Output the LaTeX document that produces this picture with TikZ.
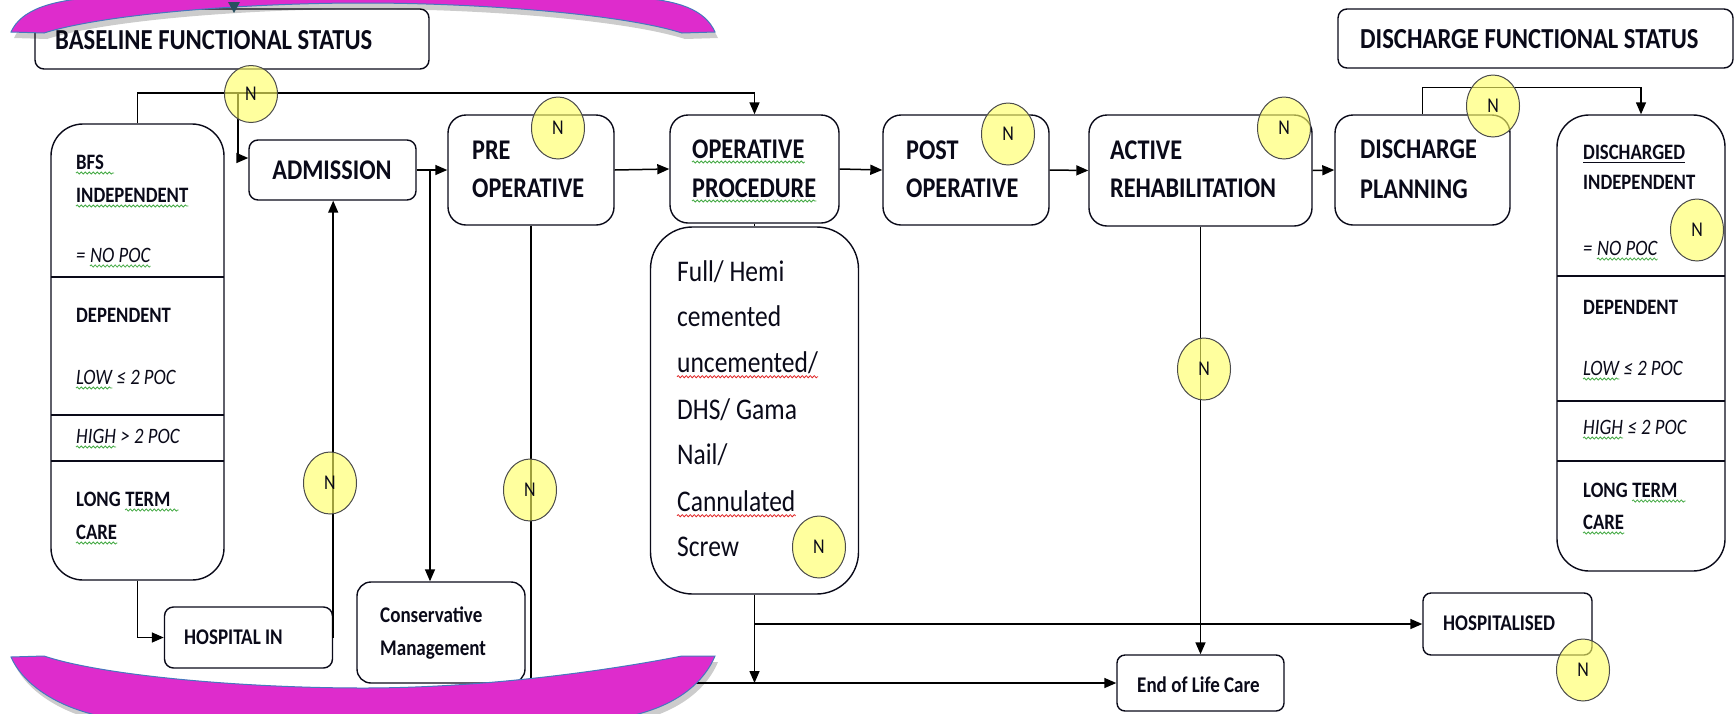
\documentclass[tikz,border=0pt]{standalone}
\usepackage{fontspec}
\setmainfont{Carlito}[FakeStretch=0.85]
\usetikzlibrary{arrows.meta,shapes.geometric,decorations.pathmorphing}
\definecolor{sqg}{RGB}{70,170,70}
\definecolor{sqr}{RGB}{225,40,40}
\definecolor{mag}{RGB}{222,44,204}
\definecolor{magline}{RGB}{70,120,190}
\definecolor{nyel}{RGB}{255,255,100}
\definecolor{ink}{RGB}{10,10,25}
\definecolor{tipc}{RGB}{40,80,95}
\newcommand\fntT{\fontsize{29}{35}\selectfont\bfseries}
\newcommand\fntM{\fontsize{28.5}{34}\selectfont\bfseries}
\newcommand\fntB{\fontsize{22}{26}\selectfont\bfseries}
\newcommand\fntI{\fontsize{22}{26}\selectfont\itshape}
\newcommand\fntS{\fontsize{22.4}{27}\selectfont\bfseries}
\newcommand\fntD{\fontsize{30}{36}\selectfont}
\newcommand\fntN{\fontsize{21}{24}\selectfont}
\newcommand\sqline[2]{\draw[#1] ([yshift=-4pt]#2.base west) -- ([yshift=-4pt]#2.base east);}
\tikzset{
  box/.style={draw=ink, line width=1.4pt, fill=white, inner sep=0pt},
  arr/.style={draw=black, line width=1.5pt, -{Triangle[length=12pt,width=10pt]}},
  ln/.style={draw=black, line width=1.5pt},
  divl/.style={draw=ink, line width=1.4pt},
  txt/.style={anchor=base west, inner sep=0pt, text=ink},
  nxt/.style={anchor=base west, inner sep=0pt, text=ink, xshift=4.2pt},
  gsq/.style={draw=sqg, line width=0.8pt, decorate, decoration={snake, amplitude=1.1pt, segment length=4pt}},
  rsq/.style={draw=sqr, line width=0.8pt, decorate, decoration={snake, amplitude=1.1pt, segment length=4pt}},
  uln/.style={draw=ink, line width=1.3pt},
  nc/.style={ellipse, minimum width=53pt, minimum height=62pt, inner sep=0pt,
    draw=black!70, line width=1pt, fill=nyel, fill opacity=0.62, text opacity=1,
    text=ink, font=\fntN},
  ban/.style={fill=mag, draw=magline, line width=1pt},
  bansh/.style={fill=black, opacity=0.2}
}
\begin{document}
\begin{tikzpicture}[x=1pt,y=-1pt]
\useasboundingbox (0,0) rectangle (1735,713);
\fill[white] (0,0) rectangle (1735,713);

% ---------- boxes ----------
\node[box, rounded corners=9pt, minimum width=394pt, minimum height=60pt] (base) at (232,39) {};
\node[box, rounded corners=9pt, minimum width=395pt, minimum height=59pt] (dfs) at (1535.5,38.5) {};
\node[box, rounded corners=32pt, minimum width=173pt, minimum height=456pt] (bfs) at (137.5,352) {};
\node[box, rounded corners=9pt, minimum width=167pt, minimum height=60pt] (adm) at (332.5,170) {};
\node[box, rounded corners=18pt, minimum width=166pt, minimum height=110pt] (pre) at (531,170) {};
\node[box, rounded corners=18pt, minimum width=169pt, minimum height=108pt] (opp) at (754.5,169) {};
\node[box, rounded corners=42pt, minimum width=208pt, minimum height=367pt] (det) at (754.5,410.5) {};
\node[box, rounded corners=18pt, minimum width=166pt, minimum height=110pt] (post) at (966,170) {};
\node[box, rounded corners=18pt, minimum width=223pt, minimum height=111pt] (act) at (1200.5,170.5) {};
\node[box, rounded corners=18pt, minimum width=175pt, minimum height=110pt] (dpl) at (1422.5,170) {};
\node[box, rounded corners=32pt, minimum width=168pt, minimum height=456pt] (dis) at (1641,343) {};
\node[box, rounded corners=9pt, minimum width=168pt, minimum height=61pt] (hin) at (248.5,637.5) {};
\node[box, rounded corners=14pt, minimum width=168pt, minimum height=101pt] (con) at (441,632.5) {};
\node[box, rounded corners=8pt, minimum width=167pt, minimum height=56pt] (eol) at (1200.5,683) {};
\node[box, rounded corners=8pt, minimum width=169pt, minimum height=62pt] (hos) at (1507.5,624) {};

% dividers in the status boxes
\draw[divl] (51,277) -- (224,277);
\draw[divl] (51,415) -- (224,415);
\draw[divl] (51,461) -- (224,461);
\draw[divl] (1557,276) -- (1725,276);
\draw[divl] (1557,401) -- (1725,401);
\draw[divl] (1557,461) -- (1725,461);

% ---------- connectors ----------
\coordinate (jt) at (238,93);
\coordinate (jc) at (430,170);
\draw[arr] (bfs.north) -- (bfs.north |- jt) -| (opp.north);
\draw[arr] (jt) |- ([yshift=12pt]adm.west);
\draw[arr] (adm.east) -- (pre.west);
\draw[arr] (jc) -- (jc |- con.north);
\draw[arr] (pre.east) -- (opp.west);
\draw[arr] (opp.east) -- (post.west);
\draw[arr] (post.east) -- (act.west);
\draw[arr] (act.east) -- (dpl.west);
\draw[arr] (dpl.north) -- ++(0,-27) -| (dis.north);
\draw[ln] (opp.south) -- (det.north);
\draw[arr] (det.south) -- (det.south |- eol.west);
\draw[arr] (det.south |- hos.west) -- (hos.west);
\draw[arr] (pre.south) |- (eol.west);
\draw[arr] (act.south) -- (eol.north);
\draw[arr] (bfs.south) |- (hin.west);
\draw[arr] (hin.east) -- (hin.east |- adm.south);

% ---------- texts ----------
\node[txt,font=\fntT] (baseT) at (55,49.5) {BASELINE FUNCTIONAL STATUS};
\node[txt,font=\fntT] (dfsT) at (1360,48) {DISCHARGE FUNCTIONAL STATUS};
\node[anchor=base, inner sep=0pt, text=ink, font=\fntM] (admT) at (332,179.5) {ADMISSION};
\node[txt,font=\fntM] (preT1) at (472,159) {PRE};
\node[txt,font=\fntM] (preT2) at (472,197) {OPERATIVE};
\node[txt,font=\fntM] (oppT1) at (692,158) {OPERATIVE};
\node[txt,font=\fntM] (oppT2) at (692,197) {PROCEDURE};
\sqline{gsq}{oppT1}
\sqline{gsq}{oppT2}
\node[txt,font=\fntM] (postT1) at (906,159) {POST};
\node[txt,font=\fntM] (postT2) at (906,197) {OPERATIVE};
\node[txt,font=\fntM] (actT1) at (1110,159) {ACTIVE};
\node[txt,font=\fntM] (actT2) at (1110,197) {REHABILITATION};
\node[txt,font=\fntM] (dplT1) at (1360,158) {DISCHARGE};
\node[txt,font=\fntM] (dplT2) at (1360,198) {PLANNING};

% left status box
\node[txt,font=\fntB] (b1) at (76,169) {BFS};
\node[txt,font=\fntB] (b2) at (76,202) {INDEPENDENT};
\node[txt,font=\fntI] (b3a) at (76,262) {=};
\node[nxt,font=\fntI] (b3b) at (b3a.base east) {NO POC};
\node[txt,font=\fntB] (b4) at (76,322) {DEPENDENT};
\node[txt,font=\fntI] (b5a) at (76,384) {LOW};
\node[nxt,font=\fntI] (b5b) at (b5a.base east) {≤ 2 POC};
\node[txt,font=\fntI] (b6a) at (76,443) {HIGH};
\node[nxt,font=\fntI] (b6b) at (b6a.base east) {> 2 POC};
\node[txt,font=\fntB] (b7a) at (76,506) {LONG};
\node[nxt,font=\fntB] (b7b) at (b7a.base east) {TERM};
\node[txt,font=\fntB] (b8) at (76,539) {CARE};
\draw[gsq] ([yshift=-4pt]b1.base west) -- ([xshift=10pt,yshift=-4pt]b1.base east);
\sqline{gsq}{b2}
\sqline{gsq}{b3b}
\sqline{gsq}{b5a}
\sqline{gsq}{b6a}
\draw[gsq] ([yshift=-4pt]b7b.base west) -- ([xshift=8pt,yshift=-4pt]b7b.base east);
\sqline{gsq}{b8}

% right status box
\node[txt,font=\fntB] (d1) at (1583,159) {DISCHARGED};
\node[txt,font=\fntB] (d2) at (1583,189) {INDEPENDENT};
\node[txt,font=\fntI] (d3a) at (1583,255) {=};
\node[nxt,font=\fntI] (d3b) at (d3a.base east) {NO POC};
\node[txt,font=\fntB] (d4) at (1583,314) {DEPENDENT};
\node[txt,font=\fntI] (d5a) at (1583,375) {LOW};
\node[nxt,font=\fntI] (d5b) at (d5a.base east) {≤ 2 POC};
\node[txt,font=\fntI] (d6a) at (1583,434) {HIGH};
\node[nxt,font=\fntI] (d6b) at (d6a.base east) {≤ 2 POC};
\node[txt,font=\fntB] (d7a) at (1583,497) {LONG};
\node[nxt,font=\fntB] (d7b) at (d7a.base east) {TERM};
\node[txt,font=\fntB] (d8) at (1583,529) {CARE};
\draw[uln] ([yshift=-3.5pt]d1.base west) -- ([yshift=-3.5pt]d1.base east);
\sqline{gsq}{d3b}
\sqline{gsq}{d5a}
\sqline{gsq}{d6a}
\draw[gsq] ([yshift=-4pt]d7b.base west) -- ([xshift=8pt,yshift=-4pt]d7b.base east);
\sqline{gsq}{d8}

% operative detail
\node[txt,font=\fntD] (t1) at (677,281.7) {Full/ Hemi};
\node[txt,font=\fntD] (t2) at (677,326.7) {cemented};
\node[txt,font=\fntD] (t3) at (677,372.7) {uncemented/};
\node[txt,font=\fntD] (t4) at (677,419.7) {DHS/ Gama};
\node[txt,font=\fntD] (t5) at (677,464.7) {Nail/};
\node[txt,font=\fntD] (t6) at (677,511.7) {Cannulated};
\node[txt,font=\fntD] (t7) at (677,556.7) {Screw};
\sqline{rsq}{t3}
\sqline{rsq}{t6}

\node[txt,font=\fntS] (hinT) at (184,644) {HOSPITAL IN};
\node[txt,font=\fntS] (conT1) at (380,622) {Conservative};
\node[txt,font=\fntS] (conT2) at (380,655) {Management};
\node[txt,font=\fntS] (eolT) at (1137,692) {End of Life Care};
\node[txt,font=\fntS] (hosT) at (1443,630) {HOSPITALISED};

% ---------- N markers ----------
\node[nc, minimum height=57pt] (n1) at (251,94) {N};
\node[nc] (n2) at (558,128) {N};
\node[nc] (n3) at (1008,134) {N};
\node[nc] (n4) at (1284,128) {N};
\node[nc] (n5) at (1493,106) {N};
\node[nc] (n6) at (1697,230) {N};
\node[nc] (n7) at (330,483) {N};
\node[nc] (n8) at (530,490) {N};
\node[nc] (n9) at (819,547) {N};
\node[nc] (n10) at (1204,369) {N};
\node[nc] (n11) at (1583,670) {N};

% ---------- banners ----------
\begin{scope}
\clip (0,0) rectangle (1735,713);
\begin{scope}[xshift=3pt,yshift=-6pt]
\fill[bansh] (11,32) .. controls (21,10) and (50,0) .. (100,-3) -- (630,-3) .. controls (680,0) and (705,10) .. (715,32) -- (682,33) .. controls (622,14) and (480,3) .. (363,3) .. controls (246,3) and (104,14) .. (44,33) -- cycle;
\end{scope}
\path[ban] (11,32) .. controls (21,10) and (50,0) .. (100,-3) -- (630,-3) .. controls (680,0) and (705,10) .. (715,32) -- (682,33) .. controls (622,14) and (480,3) .. (363,3) .. controls (246,3) and (104,14) .. (44,33) -- cycle;
\begin{scope}[xshift=3pt,yshift=-6pt]
\fill[bansh] (11,657) .. controls (21,680) and (50,705) .. (100,716) -- (630,716) .. controls (680,705) and (705,680) .. (715,656) -- (682,656) .. controls (600,672) and (480,688) .. (363,688) .. controls (246,688) and (104,676) .. (44,656) -- cycle;
\end{scope}
\path[ban] (11,657) .. controls (21,680) and (50,705) .. (100,716) -- (630,716) .. controls (680,705) and (705,680) .. (715,656) -- (682,656) .. controls (600,672) and (480,688) .. (363,688) .. controls (246,688) and (104,676) .. (44,656) -- cycle;
\end{scope}
\fill[tipc] (228,2) -- (240,2) -- (234,13) -- cycle;
\end{tikzpicture}
\end{document}
